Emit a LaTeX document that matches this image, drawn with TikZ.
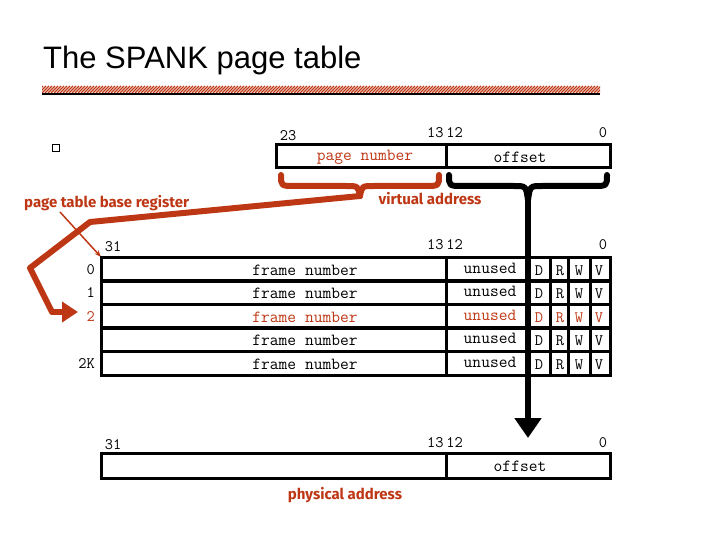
\documentclass[tikz,border=0pt]{standalone}
\usepackage{fontspec}
\setmainfont{Liberation Sans}
\newfontfamily\lblfont{Fira Sans}
\usetikzlibrary{arrows.meta}
\definecolor{myred}{RGB}{190,55,20}
\begin{document}
\begin{tikzpicture}[x=1pt,y=-1pt,
  box/.style={draw=black,line width=3pt},
  mono/.style={font=\fontsize{17}{17}\selectfont\ttfamily,inner sep=0pt},
  num/.style={font=\fontsize{16}{16}\selectfont\ttfamily,inner sep=0pt},
  lbl/.style={font=\fontsize{15}{15}\selectfont\lblfont\bfseries,text=myred,inner sep=0pt},
  thick/.style={line width=6pt,line cap=round,line join=round}]
\useasboundingbox (0,0) rectangle (720,540);
% title
\node[anchor=west,font=\fontsize{31}{31}\selectfont,inner sep=0pt] (title) at (43,60) {The SPANK page table};
\begin{scope}
\clip (42,86) rectangle (600,93);
\foreach \i in {36,39,...,600} \draw[myred,line width=1.2pt] (\i,93) -- (\i+7,86);
\end{scope}
\draw[line width=2pt] (42,94) -- (600,94);
% bullet
\node[draw,line width=1pt,minimum size=7pt,inner sep=0pt] (bul) at (56,148) {};
% virtual address box
\draw[box] (276,145) rectangle (610,168);
\draw[box] (446,145) -- (446,168);
\node[num] (v23) at (288,136) {23};
\node[num] (v1312) at (445,133) {13\,12};
\node[num] (v0) at (603,133) {0};
\node[mono,text=myred] (pn) at (365,157) {page number};
\node[mono] (off1) at (520,157) {offset};
% red brace and path
\coordinate (rb) at (360,196);
\draw[myred,thick] (281,175) .. controls (281,186) .. (295,186) -- (346,186) .. controls (358,186) .. (rb);
\draw[myred,thick] (439,175) .. controls (439,186) .. (425,186) -- (374,186) .. controls (362,186) .. (rb);
\coordinate (c1) at (90,222);
\coordinate (c2) at (30,268);
\coordinate (c3) at (52,312);
\coordinate (c4) at (78,312);
\draw[myred,thick] (rb) -- (c1) -- (c2) -- (c3);
\draw[myred,line width=6pt,-{Triangle[length=16pt,width=20pt]}] (c3) -- (c4);
% black brace and arrow
\coordinate (bb) at (528,200);
\draw[thick] (449,175) .. controls (449,186) .. (463,186) -- (514,186) .. controls (526,186) .. (bb);
\draw[thick] (607,175) .. controls (607,186) .. (593,186) -- (542,186) .. controls (530,186) .. (bb);
\coordinate (tip) at (528,438);
\draw[line width=6pt,-{Triangle[length=20pt,width=26pt]}] (bb) -- (tip);
% labels
\node[lbl,anchor=west] (ptbr) at (24,203) {page table base register};
\node[lbl] (va) at (430,199) {virtual address};
\coordinate (pa0) at (60,212);
\coordinate (pa1) at (101,257);
\draw[myred,line width=1.5pt,-{Stealth[length=7pt]}] (pa0) -- (pa1);
% page table
\node[num] (t31) at (113,247) {31};
\node[num] (t1312) at (445,245) {13\,12};
\node[num] (t0) at (603,245) {0};
\foreach \y/\lab/\c [count=\k] in {257/0/black,280/1/black,304/2/myred,327//black,351/2K/black}{
  \draw[box] (101,\y) rectangle (610,\y+24);
  \draw[box] (446,\y) -- (446,\y+24);
  \draw[line width=3pt] (550,\y) -- (550,\y+24) (568,\y) -- (568,\y+24) (590,\y) -- (590,\y+24);
  \node[mono,text=\c] (fn\k) at (305,\y+13) {frame number};
  \node[mono,text=\c] (un\k) at (490,\y+11) {unused};
  \node[num,text=\c] (d\k) at (539,\y+14) {D};
  \node[num,text=\c] (r\k) at (560,\y+14) {R};
  \node[num,text=\c] (w\k) at (579,\y+14) {W};
  \node[num,text=\c] (vv\k) at (599,\y+14) {V};
  \node[num,text=\c,anchor=east] (lab\k) at (95,\y+13) {\lab};
}
\draw[line width=6pt] (528,257) -- (528,375);
% physical address
\node[num] (p31) at (113,445) {31};
\node[num] (p1312) at (445,443) {13\,12};
\node[num] (p0) at (603,443) {0};
\draw[box] (101,453) rectangle (610,478);
\draw[box] (446,453) -- (446,478);
\node[mono] (off2) at (520,466) {offset};
\node[lbl] (pa) at (345,495) {physical address};
\end{tikzpicture}
\end{document}
